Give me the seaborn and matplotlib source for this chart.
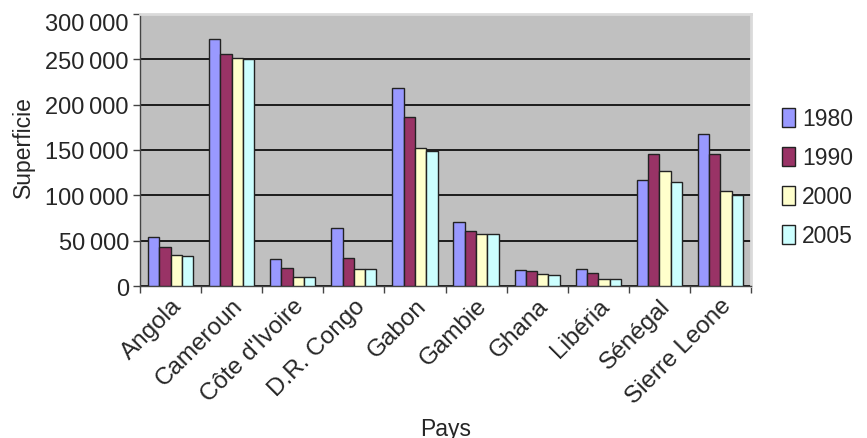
import matplotlib
matplotlib.use("Agg")
import matplotlib.pyplot as plt
import matplotlib.transforms as mtransforms
import pandas as pd
import seaborn as sns
from matplotlib.ticker import FuncFormatter, FixedLocator

countries = ["Angola", "Cameroun", "Côte d'Ivoire", "D.R. Congo", "Gabon",
             "Gambie", "Ghana", "Libéria", "Sénégal", "Sierre Leone"]
years = ["1980", "1990", "2000", "2005"]
v1980 = [53500, 272000, 29500, 63500, 218500, 71000, 18000, 19200, 117000, 167500]
v1990 = [43000, 256000, 20300, 31000, 186000, 61000, 16000, 14000, 145500, 145500]
v2000 = [34000, 251500, 10400, 19200, 152500, 57000, 13300, 8100, 127000, 104500]
v2005 = [32800, 250000, 10400, 19200, 149000, 57000, 11800, 7400, 115000, 100000]
colors = ["#9999FF", "#993366", "#FFFFCC", "#CCFFFF"]
yticks = [0, 50000, 100000, 150000, 200000, 250000, 300000]

rows = []
for yr, vals in zip(years, [v1980, v1990, v2000, v2005]):
    for c, v in zip(countries, vals):
        rows.append({"Pays": c, "Année": yr, "Superficie": v})
df = pd.DataFrame(rows)

sns.set_theme(style="white")
plt.rcParams["font.family"] = ["Liberation Sans", "DejaVu Sans"]

fig = plt.figure(figsize=(8.67, 4.39), dpi=100)
ax = fig.add_axes([140 / 867, 1 - 287 / 439, 611 / 867, 272 / 439])
ax.set_facecolor("#C0C0C0")

sns.barplot(data=df, x="Pays", y="Superficie", hue="Année", order=countries,
            hue_order=years, palette=colors, width=0.74, saturation=1,
            edgecolor="#222222", linewidth=1.0, ax=ax, errorbar=None, zorder=3)

ax.set_ylim(0, 300000)
ax.set_xlim(-0.5, len(countries) - 0.5)
ax.yaxis.set_major_locator(FixedLocator(yticks))
ax.yaxis.set_major_formatter(FuncFormatter(
    lambda v, p: f"{int(v):,}".replace(",", "\u2009")))
ax.grid(axis="y", color="black", linewidth=1.2, zorder=1)
ax.set_axisbelow(True)

for s in ["top", "right"]:
    ax.spines[s].set_color("#DADADA")
    ax.spines[s].set_linewidth(2.0)
for s in ["left", "bottom"]:
    ax.spines[s].set_color("#444444")
    ax.spines[s].set_linewidth(1.0)

ax.tick_params(axis="y", which="major", direction="out", length=5, width=1,
               color="#444444", labelsize=17, pad=3, left=True)
ax.tick_params(axis="x", which="major", length=0, labelsize=17.5, pad=6)
ax.set_xticks(range(len(countries)))
ax.set_xticklabels(countries, rotation=45, ha="right", rotation_mode="anchor")
ax.set_xticks([i - 0.5 for i in range(len(countries) + 1)], minor=True)
ax.tick_params(axis="x", which="minor", direction="out", length=5, width=1,
               color="#444444", bottom=True)

ax.set_xlabel("Pays", fontsize=16.5)
ax.xaxis.set_label_coords(0.5, -0.48)
ax.set_ylabel("Superficie", fontsize=16.5)
ax.yaxis.set_label_coords(-0.172, 0.515)

handles, labels = ax.get_legend_handles_labels()
ax.legend(handles, labels, loc="center left", bbox_to_anchor=(1.035, 0.40),
          frameon=False, fontsize=16.5, handlelength=0.6, handleheight=0.9,
          handletextpad=0.3, labelspacing=0.7, borderaxespad=0)

fig.canvas.draw()
top_label = ax.yaxis.get_major_ticks()[-1].label1
top_label.set_transform(top_label.get_transform() +
                        mtransforms.ScaledTranslation(0, -8 / 100, fig.dpi_scale_trans))

fig.savefig("out.png", dpi=100)
